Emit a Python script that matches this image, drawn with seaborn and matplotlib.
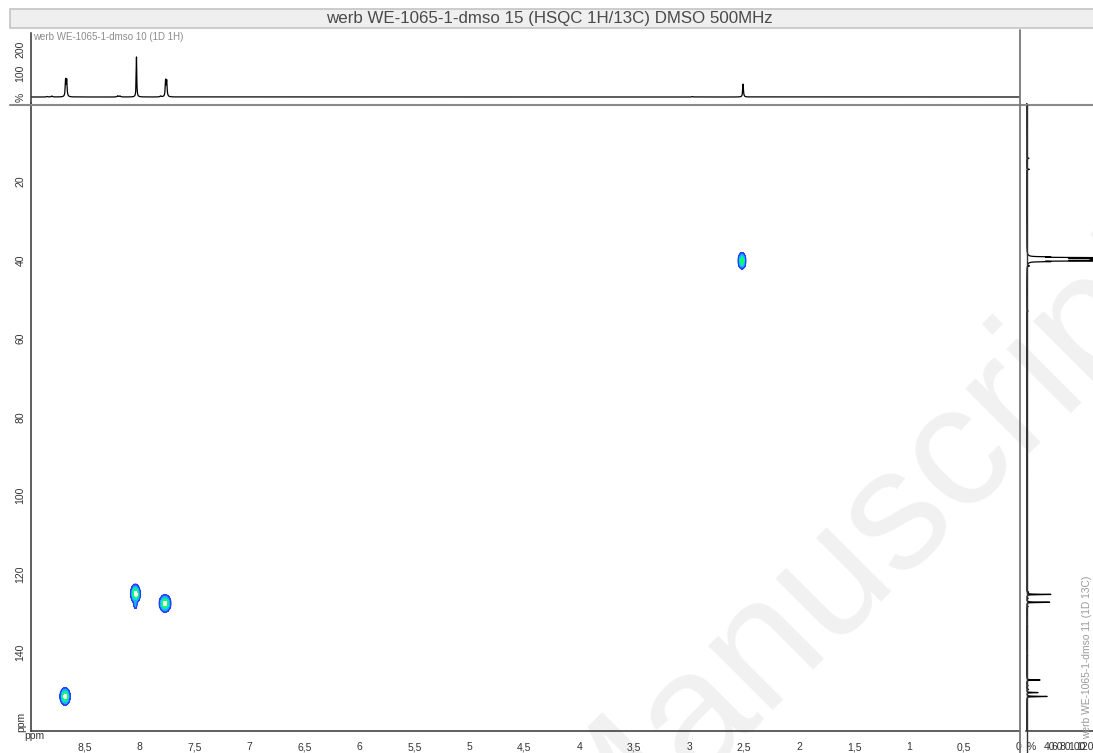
import numpy as np
import pandas as pd
import matplotlib
matplotlib.use("Agg")
import matplotlib.pyplot as plt
from matplotlib.lines import Line2D
from matplotlib.patches import Rectangle
from matplotlib.ticker import FuncFormatter, MultipleLocator, FixedLocator
import seaborn as sns

# --- 1D 1H trace (top) : shift (ppm), height (%), half width (ppm)
h_shift = [8.84, 8.80, 8.675, 8.665, 8.20, 8.18, 8.03, 7.81, 7.765, 7.755, 2.97, 2.51]
h_height = [2, 4, 69, 67, 5, 4, 167, 4, 66, 64, 2, 54]
h_hwhm = [0.006, 0.006, 0.004, 0.004, 0.006, 0.006, 0.003, 0.006, 0.004, 0.004, 0.004, 0.004]

# --- 1D 13C trace (right) : shift (ppm), height
c_shift = [14.1, 16.9, 39.2, 39.4, 39.6, 39.8, 40.0, 40.2, 40.4, 41.5, 53.0,
           124.6, 125.2, 126.2, 127.2, 128.3, 133.4, 140.8, 147.0, 148.4,
           149.4, 150.2, 151.2]
c_height = [5, 6, 40, 150, 300, 400, 300, 150, 40, 5, 3,
            4, 58, 3, 55, 3, 2, 2, 32, 3,
            4, 27, 49]

# --- HSQC cross peaks : 1H ppm, 13C ppm, intensity, widths (ppm)
xp_h = [8.68, 8.04, 8.04, 8.018, 7.77, 2.52]
xp_c = [151.2, 125.0, 127.8, 125.4, 127.5, 40.2]
xp_int = [1.0, 0.95, 0.3, 0.25, 1.0, 0.75]
xp_wh = [0.021, 0.020, 0.008, 0.010, 0.024, 0.017]
xp_wc = [1.0, 1.1, 0.6, 0.5, 1.0, 1.0]

# x / y tick setup
x_major = 0.5
x_minor = 0.1
y_major = [20, 40, 60, 80, 100, 120, 140]
y_minor = 4
top_ticks = [0, 100, 200]
top_labels = ['%', '100', '200']
r_ticks = [0, 20, 40, 60, 80, 100, 120, 140]
r_labels = ['%', '', '40', '60', '80', '100', '120', '']

title = 'werb WE-1065-1-dmso 15 (HSQC 1H/13C) DMSO 500MHz'
top_name = 'werb WE-1065-1-dmso 10 (1D 1H)'
right_name = 'werb WE-1065-1-dmso 11 (1D 13C)'

sns.set_style("white")
plt.rcParams['font.family'] = ['Liberation Sans', 'DejaVu Sans']

W, H = 1093, 753
fig = plt.figure(figsize=(W / 100, H / 100), dpi=100)
fig.patch.set_facecolor('white')


def fx(px):
    return px / W


def fy(py):
    return 1 - py / H


# watermark, behind everything
fig.text(fx(1191), fy(292), 'Accepted Manuscript', rotation=45, rotation_mode='anchor',
         ha='right', va='baseline', fontsize=124, color='#f1f1f1', zorder=-5)

ax = fig.add_axes([fx(31), fy(731), fx(1020) - fx(31), fy(103) - fy(731)])
ax_top = fig.add_axes([fx(31), fy(103), fx(1020) - fx(31), fy(33) - fy(103)], sharex=ax)
ax_r = fig.add_axes([fx(1026.4), fy(731), fx(1093) - fx(1026.4), fy(103) - fy(731)], sharey=ax)
for a in (ax, ax_top, ax_r):
    a.set_facecolor('none')

# spectra
h_axis = np.round(np.arange(-0.05, 9.05, 0.0005), 4)
h_spec = np.zeros_like(h_axis)
for s, hgt, w in zip(h_shift, h_height, h_hwhm):
    h_spec += hgt / (1 + ((h_axis - s) / w) ** 2)
df_h = pd.DataFrame({'ppm': h_axis, 'int': h_spec})

c_axis = np.round(np.linspace(0, 166, 16601), 2)
c_spec = np.zeros_like(c_axis)
for s, hgt in zip(c_shift, c_height):
    c_spec += hgt / (1 + ((c_axis - s) / 0.05) ** 2)
df_c = pd.DataFrame({'ppm': c_axis, 'int': c_spec})

sns.lineplot(data=df_h, x='ppm', y='int', ax=ax_top, color='black', linewidth=0.9,
             estimator=None, sort=False)
sns.lineplot(data=df_c, x='int', y='ppm', ax=ax_r, color='black', linewidth=0.9,
             estimator=None, sort=False, orient='y')

# 2D contours
gx = np.arange(0, 9.0, 0.004)
gy = np.arange(0, 160, 0.1)
X, Y = np.meshgrid(gx, gy)
Z = np.zeros_like(X)
for h0, c0, A, wh, wc in zip(xp_h, xp_c, xp_int, xp_wh, xp_wc):
    Z += A * np.exp(-0.5 * ((X - h0) / wh) ** 2 - 0.5 * ((Y - c0) / wc) ** 2)
levels = [0.08, 0.22, 0.40, 0.62, 0.84, 10]
cols = ['#2f66ff', '#1aaeff', '#00e6c8', '#14ff5a', '#f2fff2']
ax.contourf(X, Y, Z, levels=levels, colors=cols)
ax.contour(X, Y, Z, levels=[0.08], colors=['#2438f0'], linewidths=0.8)

ax.set_xlim(8.99, -0.01)
ax.set_ylim(160, 0)
ax_top.set_ylim(-25, 267)
ax_r.set_xlim(-1, 160)

for a in (ax, ax_top, ax_r):
    a.set_xlabel('')
    a.set_ylabel('')
    for sp in a.spines.values():
        sp.set_visible(False)
        sp.set_color('#333333')
        sp.set_linewidth(1.1)

ax.spines['left'].set_visible(True)
ax.spines['bottom'].set_visible(True)
ax_top.spines['left'].set_visible(True)
ax_r.spines['bottom'].set_visible(True)

fmt = FuncFormatter(lambda v, p: ('%g' % (round(v, 2) + 0.0)).replace('.', ','))
ax.xaxis.set_major_locator(MultipleLocator(x_major))
ax.xaxis.set_minor_locator(MultipleLocator(x_minor))
ax.xaxis.set_major_formatter(fmt)
ax.yaxis.set_major_locator(FixedLocator(y_major))
ax.yaxis.set_minor_locator(MultipleLocator(y_minor))

ax.tick_params(axis='both', which='both', direction='out', colors='#333333',
               labelcolor='#333333', labelsize=7.5, width=0.9, pad=2)
ax.tick_params(axis='x', which='major', length=6)
ax.tick_params(axis='x', which='minor', length=3.5)
ax.tick_params(axis='y', which='major', length=7, labelrotation=90, pad=-3)
ax.tick_params(axis='y', which='minor', length=4)
for lab in ax.get_yticklabels():
    lab.set_va('center')

ax_top.tick_params(axis='x', which='both', bottom=False, labelbottom=False)
ax_top.set_yticks(top_ticks)
ax_top.set_yticklabels(top_labels)
ax_top.tick_params(axis='y', which='both', direction='out', length=7, width=0.9,
                   colors='#333333', labelsize=7.5, labelrotation=90, pad=-3)
ax_top.yaxis.set_minor_locator(FixedLocator([]))
for lab in ax_top.get_yticklabels():
    lab.set_va('center')

ax_r.tick_params(axis='y', which='both', left=False, labelleft=False)
ax_r.set_xticks(r_ticks)
ax_r.set_xticklabels(r_labels)
ax_r.xaxis.set_minor_locator(FixedLocator([]))
ax_r.tick_params(axis='x', which='both', direction='out', length=6, width=0.9,
                 colors='#333333', labelsize=7.5, pad=2)
for lab in ax_r.get_xticklabels():
    lab.set_ha('left')

# frame lines and title bar
fig.add_artist(Rectangle((fx(10), fy(28)), fx(1100) - fx(10), fy(9) - fy(28),
                         transform=fig.transFigure, facecolor='#efefef',
                         edgecolor='#c4c4c4', linewidth=1.2))
fig.text(fx(549.5), fy(19), title, ha='center', va='center', fontsize=12.2, color='#4a4a4a')
fig.add_artist(Line2D([fx(10), fx(1093)], [fy(104.5), fy(104.5)], transform=fig.transFigure,
                      color='#8a8a8a', linewidth=1.5))
fig.add_artist(Line2D([fx(1020.3), fx(1020.3)], [fy(30), fy(753)], transform=fig.transFigure,
                      color='#777777', linewidth=1.3))
fig.add_artist(Line2D([fx(1026.7), fx(1026.7)], [fy(105), fy(753)], transform=fig.transFigure,
                      color='#333333', linewidth=1.0))

fig.text(fx(33), fy(37), top_name, ha='left', va='center', fontsize=7.0, color='#8c8c8c')
fig.text(fx(1087), fy(657), right_name, ha='center', va='center', rotation=90,
         fontsize=7.4, color='#9a9a9a')
fig.text(fx(34), fy(736), 'ppm', ha='center', va='center', fontsize=7.5, color='#333333')
fig.text(fx(21), fy(722), 'ppm', ha='center', va='center', rotation=90, fontsize=7.5,
         color='#333333')

fig.savefig('out.png', dpi=100)
